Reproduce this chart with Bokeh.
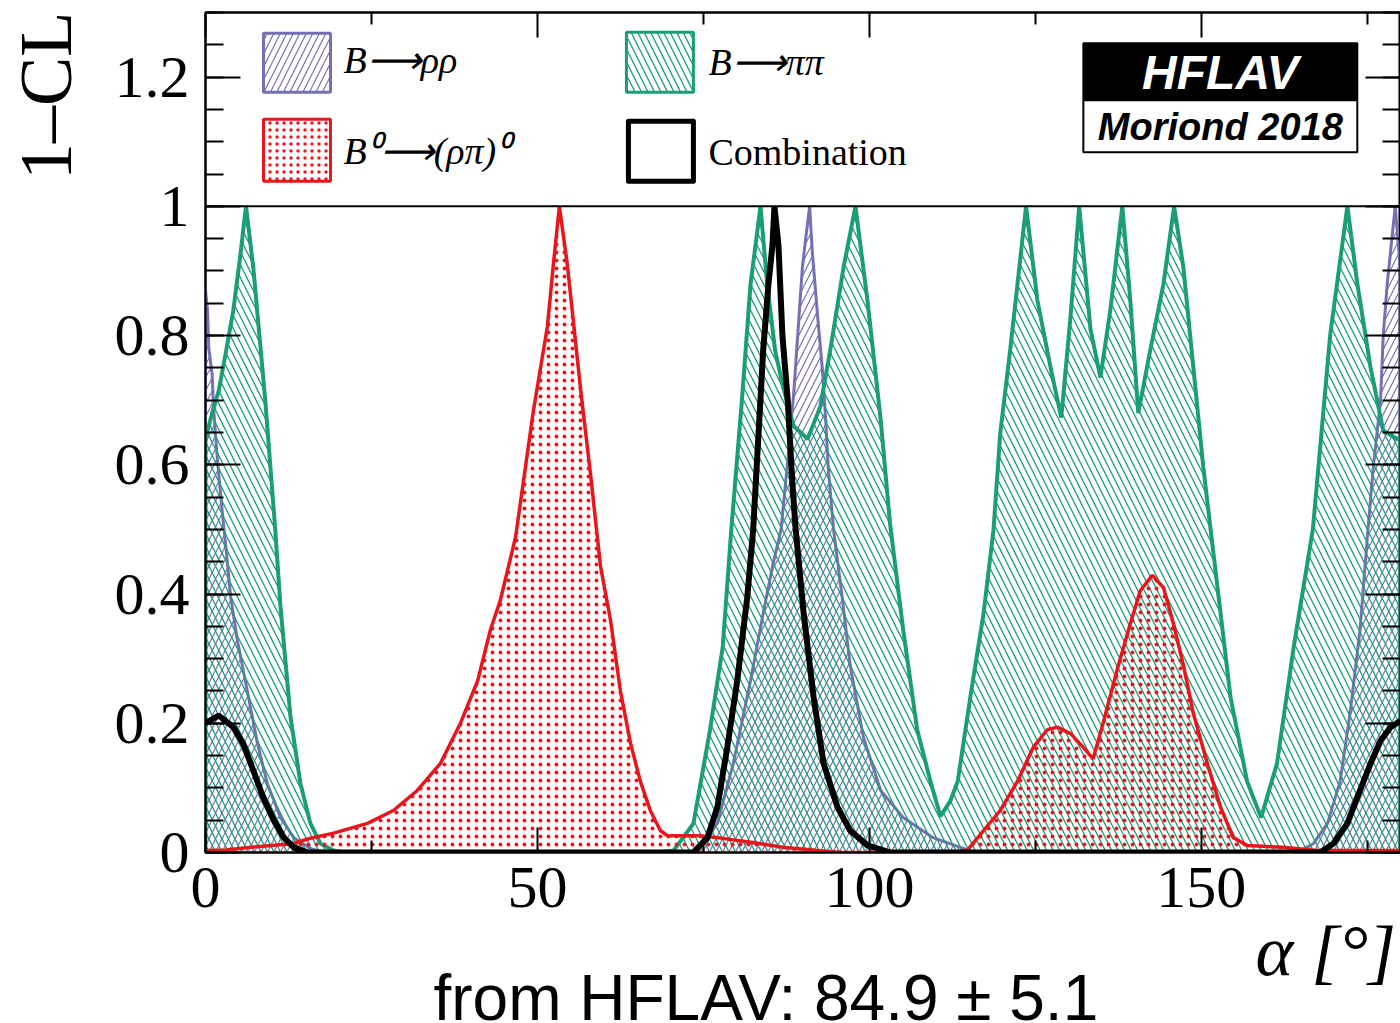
import math
from bokeh.plotting import figure
from bokeh.models import (Label, FixedTicker, LinearAxis, Span, CustomJSTickFormatter,
                          Range1d, ColumnDataSource, Title)
from bokeh.embed import file_html
from bokeh.resources import INLINE

# ---------------- data ----------------
# B -> pi pi  (green)
pipi_x = [0, 0, 1, 2, 3, 4.2, 5.2, 6.1, 7.2, 9.0, 10.5, 11.3, 12.8, 14.3, 15.8, 17.3, 19.3, 21,
          68, 70.5, 73.5, 76, 77.9, 79.2, 80.8, 82.1, 83.6, 84.6, 85.8, 87, 88.6, 90.7, 92.6,
          94.1, 96.1, 97.9, 99.7, 101.7, 103.1, 105.1, 107.2, 109.2, 110.7, 112.2, 113.3, 115.2,
          117.2, 118.7, 119.7, 121.2, 122.7, 123.6, 125.3, 127.3, 128.9, 130.3, 131.6, 133.3,
          134.8, 136.3, 138.1, 139.3, 140.5, 142.3, 144.3, 145.9, 147.3, 148.8, 150.3, 151.4,
          152.9, 154.4, 156.9, 159.0, 161.4, 163.9, 166.8, 169.4, 172.0, 173.5, 175.5, 177.4,
          179.5, 180, 180]
pipi_y = [0, 0.64, 0.68, 0.715, 0.77, 0.84, 0.92, 1.0, 0.905, 0.70, 0.50, 0.38, 0.21, 0.107,
          0.045, 0.014, 0.003, 0,
          0, 0.003, 0.045, 0.19, 0.317, 0.50, 0.70, 0.88, 1.0, 0.88, 0.777, 0.72, 0.66, 0.64,
          0.69, 0.777, 0.905, 1.0, 0.855, 0.67, 0.51, 0.344, 0.19, 0.11, 0.056, 0.08, 0.11,
          0.24, 0.37, 0.50, 0.648, 0.777, 0.916, 1.0, 0.855, 0.75, 0.673, 0.83, 1.0, 0.81,
          0.735, 0.84, 1.0, 0.855, 0.68, 0.777, 0.88, 1.0, 0.905, 0.75, 0.596, 0.50, 0.37,
          0.24, 0.11, 0.054, 0.138, 0.317, 0.50, 0.80, 1.0, 0.88, 0.75, 0.653, 0.64, 0.64, 0]

# B -> rho rho  (purple)
rhorho_x = [0, 0, 0.3, 0.5, 1.0, 1.2, 1.8, 2.5, 3.0, 3.8, 4.8, 6.3, 7.8, 9.3, 11.3, 13.3, 15.8,
            18.3, 74.0, 74.5, 77.1, 79.5, 82.1, 84.0, 85.5, 86.7, 87.7, 88.6, 89.2, 89.9, 90.4,
            91.0, 91.4, 92.2, 92.9, 93.4, 93.8, 94.6, 95.9, 97.1, 99.1, 101.7, 105.1, 109.6,
            113.7, 116, 164, 164.9, 166.9, 169.0, 170.9, 172.4, 173.9, 175.1, 175.9, 177.0,
            177.4, 178.0, 178.5, 179.2, 180, 180]
rhorho_y = [0, 0.87, 0.84, 0.78, 0.74, 0.69, 0.607, 0.53, 0.48, 0.395, 0.328, 0.25, 0.17, 0.107,
            0.054, 0.023, 0.006, 0, 0, 0.008, 0.045, 0.138, 0.266, 0.37, 0.447, 0.50, 0.607,
            0.71, 0.80, 0.905, 0.95, 1.0, 0.93, 0.83, 0.75, 0.673, 0.596, 0.50, 0.395, 0.29,
            0.178, 0.096, 0.054, 0.023, 0.008, 0, 0, 0.003, 0.014, 0.045, 0.11, 0.215, 0.344,
            0.50, 0.596, 0.70, 0.80, 0.88, 0.93, 1.0, 0.9, 0]

# B0 -> (rho pi)0  (red)
rhopi_x = [0, 3, 6.8, 10, 13.3, 15.8, 19.3, 24.4, 28.3, 31.9, 35.4, 38.4, 41.0, 42.9, 44.4, 46.7,
           49.4, 51.5, 52.4, 53.3, 54.5, 56.5, 58.0, 59.5, 61.0, 62.5, 64.0, 65.5, 67.0, 68.5,
           69.6, 74.5, 77.1, 82.1, 87.0, 92.2, 96, 112, 114.7, 117.2, 119.7, 122.3, 124.7,
           126.8, 128.3, 130.3, 132.2, 133.7, 135.2, 137.3, 139.3, 140.8, 142.6, 144.3, 145.8,
           147.3, 148.8, 150.9, 152.9, 154.8, 156.9, 162.3, 167.4, 180]
rhopi_y = [0.003, 0.004, 0.008, 0.011, 0.014, 0.022, 0.03, 0.045, 0.065, 0.096, 0.138, 0.20,
           0.266, 0.344, 0.39, 0.488, 0.684, 0.814, 0.91, 1.0, 0.91, 0.717, 0.585, 0.443, 0.36,
           0.25, 0.17, 0.11, 0.065, 0.034, 0.026, 0.026, 0.023, 0.016, 0.008, 0.003, 0, 0,
           0.003, 0.034, 0.065, 0.11, 0.163, 0.19, 0.194, 0.184, 0.163, 0.145, 0.2, 0.282,
           0.354, 0.405, 0.429, 0.41, 0.354, 0.29, 0.215, 0.138, 0.07, 0.023, 0.011, 0.008,
           0.003, 0.003]

# Combination (black)
comb_x = [0, 2.0, 4.2, 5.7, 7.2, 8.7, 10.3, 11.8, 13.3, 15.4, 73.5, 75.6, 77.1, 78.6, 80.1,
          81.6, 82.5, 83.3, 84.0, 84.8, 85.4, 85.7, 86.3, 86.9, 87.7, 88.4, 88.9, 90.1, 91.6,
          93.1, 95.2, 97.1, 99.7, 103.2, 167.9, 169.9, 172.0, 173.9, 175.5, 177.0, 178.5, 180]
comb_y = [0.20, 0.212, 0.194, 0.168, 0.127, 0.085, 0.05, 0.023, 0.008, 0, 0, 0.023, 0.07,
          0.163, 0.266, 0.395, 0.50, 0.648, 0.777, 0.88, 0.94, 1.0, 0.94, 0.80, 0.70, 0.571,
          0.50, 0.37, 0.24, 0.138, 0.07, 0.034, 0.011, 0, 0, 0.014, 0.045, 0.096, 0.138,
          0.173, 0.194, 0.204]

y_ticks = [0, 0.2, 0.4, 0.6, 0.8, 1.0, 1.2]
y_minor = [round(0.05 * i, 2) for i in range(27)]
x_ticks = [0, 50, 100, 150]
x_minor = [25, 75, 125, 175]

legend_labels = ["B⟶ρρ", "B⁰⟶(ρπ)⁰", "B⟶ππ", "Combination"]
y_title = "1–CL"
x_title = "α [°]"
result_text = "from HFLAV: 84.9 ± 5.1"

# ---------------- styles ----------------
GREEN = "#1b9e77"
PURPLE = "#7570b3"
RED = "#e8161c"
SERIF = "Liberation Serif"
SANS = "Liberation Sans"

p = figure(width=1400, height=1023, x_range=Range1d(0, 180), y_range=Range1d(0, 1.3),
           output_backend="svg", toolbar_location=None,
           min_border_left=205, min_border_right=0, min_border_top=12, min_border_bottom=171)
p.grid.visible = False
p.outline_line_color = "black"
p.outline_line_width = 2
p.background_fill_color = "white"
p.border_fill_color = "white"

bottom_ax = p.below[0]
left_ax = p.left[0]
top_ax = LinearAxis()
right_ax = LinearAxis()
p.add_layout(top_ax, "above")
p.add_layout(right_ax, "right")

def style_axis(ax, ticks, minor, maj_len, min_len, labels):
    ax.ticker = FixedTicker(ticks=ticks, minor_ticks=minor)
    ax.major_tick_in = maj_len
    ax.major_tick_out = 0
    ax.minor_tick_in = min_len
    ax.minor_tick_out = 0
    ax.axis_line_color = "black"
    ax.axis_line_width = 2
    ax.major_tick_line_width = 2
    ax.minor_tick_line_width = 2
    ax.major_tick_line_color = "black"
    ax.minor_tick_line_color = "black"
    if labels:
        ax.major_label_text_font = SERIF
        ax.major_label_text_font_size = "60px"
        ax.major_label_text_color = "black"
    else:
        ax.major_label_text_font_size = "0px"
        ax.major_label_standoff = 0

style_axis(bottom_ax, x_ticks, x_minor, 25, 12, True)
style_axis(top_ax, x_ticks, x_minor, 25, 12, False)
style_axis(left_ax, y_ticks, y_minor, 35, 18, True)
style_axis(right_ax, y_ticks, y_minor, 35, 18, False)
bottom_ax.major_label_standoff = 15
left_ax.major_label_standoff = 16
left_ax.formatter = CustomJSTickFormatter(code="return tick.toFixed(1).replace(/\\.0$/, '');")

# y-axis title at the top end of the axis (label is centred on the axis end, so it is
# padded with no-break spaces to bring the visible text just below the top)
left_ax.axis_label = y_title + "\u00a0" * 9
left_ax.axis_label_align = "end"
left_ax.axis_label_standoff = 25
left_ax.axis_label_text_font = SERIF
left_ax.axis_label_text_font_size = "74px"
left_ax.axis_label_text_font_style = "normal"
left_ax.axis_label_text_color = "black"

# ---------------- curves ----------------
def area(xs, ys, color, pattern, scale, weight, lw):
    src = ColumnDataSource(dict(x=xs, y=ys, z=[0] * len(xs)))
    p.varea(x="x", y1="z", y2="y", source=src, fill_color=None, fill_alpha=0,
            hatch_pattern=pattern, hatch_color=color, hatch_scale=scale, hatch_weight=weight)
    p.line(x="x", y="y", source=src, line_color=color, line_width=lw)

area(rhorho_x, rhorho_y, PURPLE, "/", 13, 1.2, 3)
area(pipi_x, pipi_y, GREEN, "\\", 13, 1.3, 4)
area(rhopi_x, rhopi_y, RED, ".", 8, 1.0, 3.5)
p.line(comb_x, comb_y, line_color="black", line_width=6)

p.add_layout(Span(location=1.0, dimension="width", line_color="black", line_width=2))

# ---------------- legend ----------------
def dx(px):
    return (px - 205) / 6.64

def dy(py):
    return (852 - py) / 646

p.quad(left=[dx(263)], right=[dx(330)], bottom=[dy(92)], top=[dy(33)], fill_color="white",
       line_color=PURPLE, line_width=3, hatch_pattern="/", hatch_color=PURPLE, hatch_scale=13,
       hatch_weight=1.2)
p.quad(left=[dx(263)], right=[dx(330)], bottom=[dy(181)], top=[dy(119)], fill_color="white",
       line_color=RED, line_width=3, hatch_pattern=".", hatch_color=RED, hatch_scale=7,
       hatch_weight=1.2)
p.quad(left=[dx(626)], right=[dx(693)], bottom=[dy(92)], top=[dy(32)], fill_color="white",
       line_color=GREEN, line_width=3, hatch_pattern="\\", hatch_color=GREEN, hatch_scale=13,
       hatch_weight=1.3)
p.quad(left=[dx(628)], right=[dx(693)], bottom=[dy(181)], top=[dy(121)], fill_color=None,
       line_color="black", line_width=5, line_join="round")

leg_pos = [(343, 60), (343, 151), (708, 62), (708, 152)]
for i, (lab, (lx, ly)) in enumerate(zip(legend_labels, leg_pos)):
    p.add_layout(Label(x=dx(lx), y=dy(ly), text=lab, text_font=SERIF, text_font_size="38px",
                       text_font_style="normal" if i == 3 else "italic",
                       text_align="left", text_baseline="middle", text_color="black"))

# HFLAV logo
p.quad(left=[dx(1083)], right=[dx(1357)], bottom=[dy(100)], top=[dy(43)], fill_color="black",
       line_color="black", line_width=2)
p.quad(left=[dx(1083)], right=[dx(1357)], bottom=[dy(152)], top=[dy(100)], fill_color="white",
       line_color="black", line_width=2)
p.add_layout(Label(x=dx(1220), y=dy(72), text="HFLAV", text_font=SANS, text_font_size="48px",
                   text_font_style="bold italic", text_color="white", text_align="center",
                   text_baseline="middle"))
p.add_layout(Label(x=dx(1220), y=dy(127), text="Moriond 2018", text_font=SANS,
                   text_font_size="38px", text_font_style="bold italic", text_color="black",
                   text_align="center", text_baseline="middle"))

# ---------------- x title and caption (bottom panels) ----------------
p.add_layout(Title(text=x_title, align="left", text_font=SERIF, text_font_size="72px",
                   text_font_style="italic", text_color="black", standoff=-2, offset=1050),
             "below")
p.add_layout(Title(text=result_text, align="left", text_font=SANS, text_font_size="64px",
                   text_font_style="normal", text_color="black", standoff=-60, offset=228),
             "below")

open("out.html", "w").write(file_html(p, INLINE))
